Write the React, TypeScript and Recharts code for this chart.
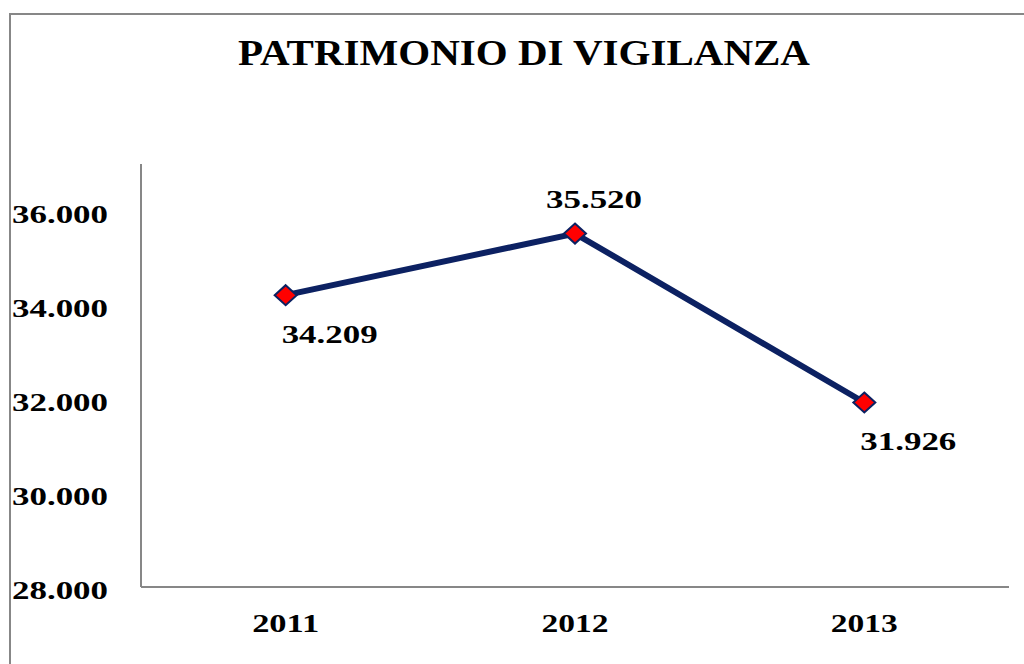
import { LineChart, Line, XAxis, YAxis, LabelList, Customized } from "recharts";

const years = ["2011", "2012", "2013"];
const patrimonio = [34209, 35520, 31926];
const yTicks = [28000, 30000, 32000, 34000, 36000];
const title = "PATRIMONIO DI VIGILANZA";

const data = years.map((year, i) => ({ year, value: patrimonio[i] }));

const SERIF = '"Liberation Serif", "Times New Roman", serif';
const NAVY = "#0c2162";
const AXIS = "#878787";

// 34209 -> "34.209"
const fmt = (v: number) => String(v).replace(/\B(?=(\d{3})+(?!\d))/g, ".");

function YTick({ y, payload }: any) {
  return (
    <text
      x={12}
      y={y + 3}
      dominantBaseline="central"
      fontFamily={SERIF}
      fontWeight="bold"
      fontSize={26}
      textLength={96}
      lengthAdjust="spacingAndGlyphs"
      fill="#000"
    >
      {fmt(payload.value)}
    </text>
  );
}

function XTick({ x, y, payload }: any) {
  return (
    <text
      x={x}
      y={y + 28}
      textAnchor="middle"
      dominantBaseline="central"
      fontFamily={SERIF}
      fontWeight="bold"
      fontSize={26}
      textLength={67}
      lengthAdjust="spacingAndGlyphs"
      fill="#000"
    >
      {payload.value}
    </text>
  );
}

function Diamond({ cx, cy, index }: any) {
  if (cx == null || cy == null) return <g key={index} />;
  return (
    <polygon
      key={index}
      points={`${cx},${cy - 10} ${cx + 11},${cy} ${cx},${cy + 10} ${cx - 11},${cy}`}
      fill="#ff0000"
      stroke={NAVY}
      strokeWidth={2}
    />
  );
}

function ValueLabel(props: any) {
  const { index, value } = props;
  const x = props.x ?? props.viewBox?.x;
  const y = props.y ?? props.viewBox?.y;
  const prev = patrimonio[index - 1] ?? -Infinity;
  const next = patrimonio[index + 1] ?? -Infinity;
  const above = value > prev && value > next;
  return (
    <text
      x={x + (above ? 19 : 44)}
      y={y + (above ? -34 : 39)}
      textAnchor="middle"
      dominantBaseline="central"
      fontFamily={SERIF}
      fontWeight="bold"
      fontSize={26}
      textLength={96}
      lengthAdjust="spacingAndGlyphs"
      fill="#000"
    >
      {fmt(value)}
    </text>
  );
}

function Frame() {
  return (
    <g>
      <rect x={10} y={14} width={1100} height={700} fill="none" stroke={AXIS} strokeWidth={2} />
      <text
        x={524}
        y={65}
        textAnchor="middle"
        fontFamily={SERIF}
        fontWeight="bold"
        fontSize={35}
        textLength={572}
        lengthAdjust="spacingAndGlyphs"
        fill="#000"
      >
        {title}
      </text>
    </g>
  );
}

export default function App() {
  return (
    <div
      style={{
        position: "fixed",
        left: 0,
        top: 0,
        width: 1024,
        height: 664,
        overflow: "hidden",
        background: "#fff",
      }}
    >
      <LineChart
        width={1024}
        height={664}
        data={data}
        margin={{ top: 164, right: 15, bottom: 0, left: 0 }}
      >
        <Customized component={Frame} />
        <XAxis
          dataKey="year"
          scale="band"
          height={77}
          axisLine={{ stroke: AXIS, strokeWidth: 2 }}
          tickLine={false}
          tick={<XTick />}
          interval={0}
        />
        <YAxis
          width={141}
          domain={[28000, 37000]}
          ticks={yTicks}
          axisLine={{ stroke: AXIS, strokeWidth: 2 }}
          tickLine={false}
          tick={<YTick />}
          interval={0}
        />
        <Line
          dataKey="value"
          stroke={NAVY}
          strokeWidth={6}
          dot={(p: any) => <Diamond {...p} />}
          activeDot={false}
          isAnimationActive={false}
        >
          <LabelList dataKey="value" content={<ValueLabel />} />
        </Line>
      </LineChart>
    </div>
  );
}
